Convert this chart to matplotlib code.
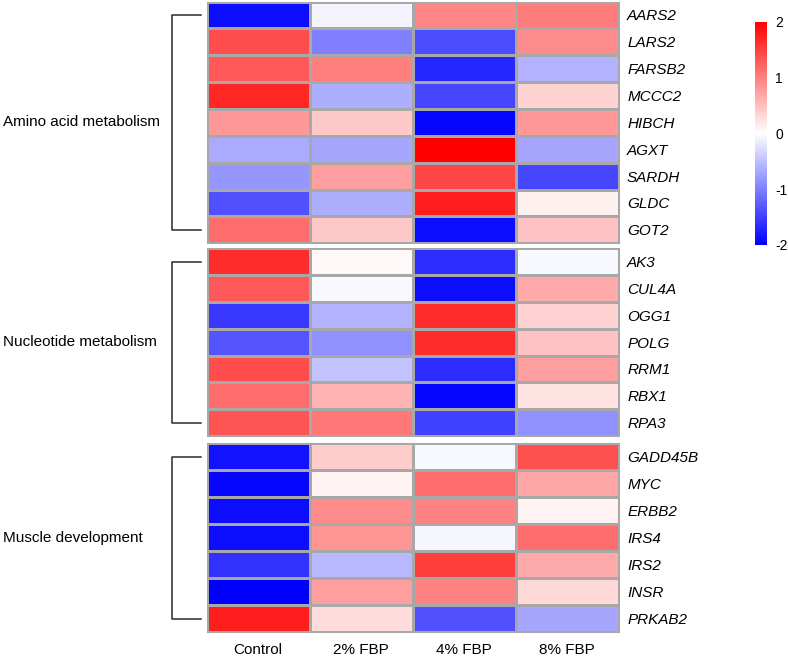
import numpy as np
import matplotlib
matplotlib.use("Agg")
import matplotlib.pyplot as plt
from matplotlib.colors import LinearSegmentedColormap, Normalize
from matplotlib.cm import ScalarMappable
from matplotlib.transforms import blended_transform_factory

plt.rcParams['font.family'] = ['Liberation Sans', 'DejaVu Sans']
plt.rcParams['axes.unicode_minus'] = False

conditions = ["Control", "2% FBP", "4% FBP", "8% FBP"]

group_names = ["Amino acid metabolism", "Nucleotide metabolism", "Muscle development"]

genes_amino = ["AARS2", "LARS2", "FARSB2", "MCCC2", "HIBCH", "AGXT", "SARDH", "GLDC", "GOT2"]
values_amino = [
    [-1.90, -0.08, 0.95, 1.02],
    [1.40, -1.00, -1.40, 0.90],
    [1.30, 1.00, -1.70, -0.60],
    [1.70, -0.63, -1.45, 0.35],
    [0.80, 0.43, -1.95, 0.80],
    [-0.67, -0.70, 2.00, -0.70],
    [-0.82, 0.75, 1.45, -1.45],
    [-1.37, -0.63, 1.75, 0.12],
    [1.15, 0.43, -1.90, 0.47],
]

genes_nucleo = ["AK3", "CUL4A", "OGG1", "POLG", "RRM1", "RBX1", "RPA3"]
values_nucleo = [
    [1.65, 0.06, -1.65, -0.06],
    [1.30, -0.06, -1.90, 0.67],
    [-1.55, -0.60, 1.65, 0.35],
    [-1.33, -0.87, 1.65, 0.47],
    [1.40, -0.47, -1.65, 0.75],
    [1.15, 0.60, -1.95, 0.23],
    [1.33, 1.05, -1.50, -0.87],
]

genes_muscle = ["GADD45B", "MYC", "ERBB2", "IRS4", "IRS2", "INSR", "PRKAB2"]
values_muscle = [
    [-1.85, 0.40, -0.05, 1.37],
    [-1.95, 0.10, 1.15, 0.70],
    [-1.90, 0.90, 0.98, 0.10],
    [-1.88, 0.82, -0.07, 1.15],
    [-1.60, -0.55, 1.50, 0.67],
    [-2.00, 0.75, 0.98, 0.31],
    [1.75, 0.27, -1.37, -0.70],
]

groups = [
    (genes_amino, values_amino),
    (genes_nucleo, values_nucleo),
    (genes_muscle, values_muscle),
]

W, H = 788, 658
fig = plt.figure(figsize=(W / 100, H / 100), dpi=100)

cmap = LinearSegmentedColormap.from_list("bwr_custom", ["#0000ff", "#ffffff", "#ff0000"])
norm = Normalize(vmin=-2, vmax=2)

left_px, right_px = 206.7, 618.7
group_bounds_px = [(1.5, 243.3), (248.3, 436.0), (443.3, 632.0)]
grid_col = "#a8a8a8"

for i, ((genes, vals), (top, bot)) in enumerate(zip(groups, group_bounds_px)):
    ax = fig.add_axes([left_px / W, 1 - bot / H, (right_px - left_px) / W, (bot - top) / H])
    data = np.array(vals)
    ax.pcolormesh(data, cmap=cmap, norm=norm, edgecolors=grid_col, linewidth=0.75)
    ax.set_xlim(0, data.shape[1])
    ax.set_ylim(data.shape[0], 0)
    ax.set_yticks(np.arange(len(genes)) + 0.5)
    ax.set_yticklabels(genes, fontstyle="italic", fontsize=11)
    ax.yaxis.tick_right()
    ax.tick_params(axis="y", length=0, pad=6)
    if i == len(groups) - 1:
        ax.set_xticks(np.arange(len(conditions)) + 0.5)
        ax.set_xticklabels(conditions, fontsize=11)
        ax.tick_params(axis="x", length=0, pad=8)
    else:
        ax.set_xticks([])
    for s in ax.spines.values():
        s.set_edgecolor(grid_col)
        s.set_linewidth(0.75)

    tr = blended_transform_factory(fig.transFigure, ax.transData)
    n = len(genes)
    xv, xh = 172.3 / W, 200.5 / W
    ax.plot([xh, xv, xv, xh], [0.5, 0.5, n - 0.5, n - 0.5], transform=tr,
            color="#2a2a2a", linewidth=1.1, clip_on=False)
    fig.text(3 / W, n / 2, group_names[i], transform=tr, ha="left", va="center",
             fontsize=11)

cax = fig.add_axes([755 / W, 1 - 245 / H, 11.7 / W, 223.3 / H])
cb = fig.colorbar(ScalarMappable(norm=norm, cmap=cmap), cax=cax, ticks=[-2, -1, 0, 1, 2])
cb.outline.set_visible(False)
cax.tick_params(length=0, pad=6, labelsize=10)

fig.savefig("out.png", dpi=100)
